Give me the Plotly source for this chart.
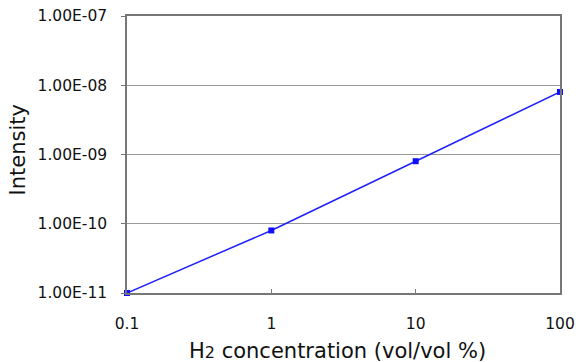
import plotly.graph_objects as go

concentration = [0.1, 1, 10, 100]
intensity = [1.0e-11, 8.0e-11, 8.0e-10, 8.0e-9]

x_tickvals = [0.1, 1, 10, 100]
x_ticktext = ["0.1", "1", "10", "100"]
y_tickvals = [1e-11, 1e-10, 1e-9, 1e-8, 1e-7]
y_ticktext = ["1.00E-11", "1.00E-10", "1.00E-09", "1.00E-08", "1.00E-07"]

fig = go.Figure()
fig.add_trace(go.Scatter(
    x=concentration, y=intensity, mode="lines+markers",
    line=dict(color="#2020ff", width=1.5),
    marker=dict(symbol="square", size=6, color="#1010ff"),
    cliponaxis=False,
))

font = dict(family="DejaVu Sans", size=15.5, color="#111111")
title_font = dict(family="DejaVu Sans", size=21, color="#111111")
fig.update_layout(
    width=579, height=362,
    margin=dict(l=127, r=19, t=16, b=69),
    paper_bgcolor="white", plot_bgcolor="white",
    showlegend=False,
    font=font,
)
fig.update_xaxes(
    type="log", range=[-1, 2],
    tickvals=x_tickvals, ticktext=x_ticktext,
    ticks="inside", ticklen=4, tickcolor="#777777",
    showgrid=False, zeroline=False,
    showline=True, linecolor="#777777", linewidth=1.5, mirror=True,
    tickfont=font, ticklabelstandoff=16, automargin=False,
)
fig.update_yaxes(
    type="log", range=[-11, -7],
    tickvals=y_tickvals, ticktext=y_ticktext,
    ticks="outside", ticklen=4, tickcolor="#777777",
    showgrid=True, gridcolor="#999999", gridwidth=1,
    zeroline=False,
    showline=True, linecolor="#777777", linewidth=1.5, mirror=True,
    tickfont=font, ticklabelstandoff=11, automargin=False,
)
fig.add_annotation(
    text='H<span style="font-size:16px">2</span> concentration (vol/vol %)',
    font=title_font, showarrow=False,
    xref="paper", yref="paper", x=0.5, y=0, xanchor="center", yanchor="middle",
    xshift=-6, yshift=-58,
)
fig.add_annotation(
    text="Intensity", textangle=-90, font=title_font, showarrow=False,
    xref="paper", yref="paper", x=0, y=0.5, xanchor="center", yanchor="middle",
    xshift=-110, yshift=4,
)
fig.write_html("out.html")
